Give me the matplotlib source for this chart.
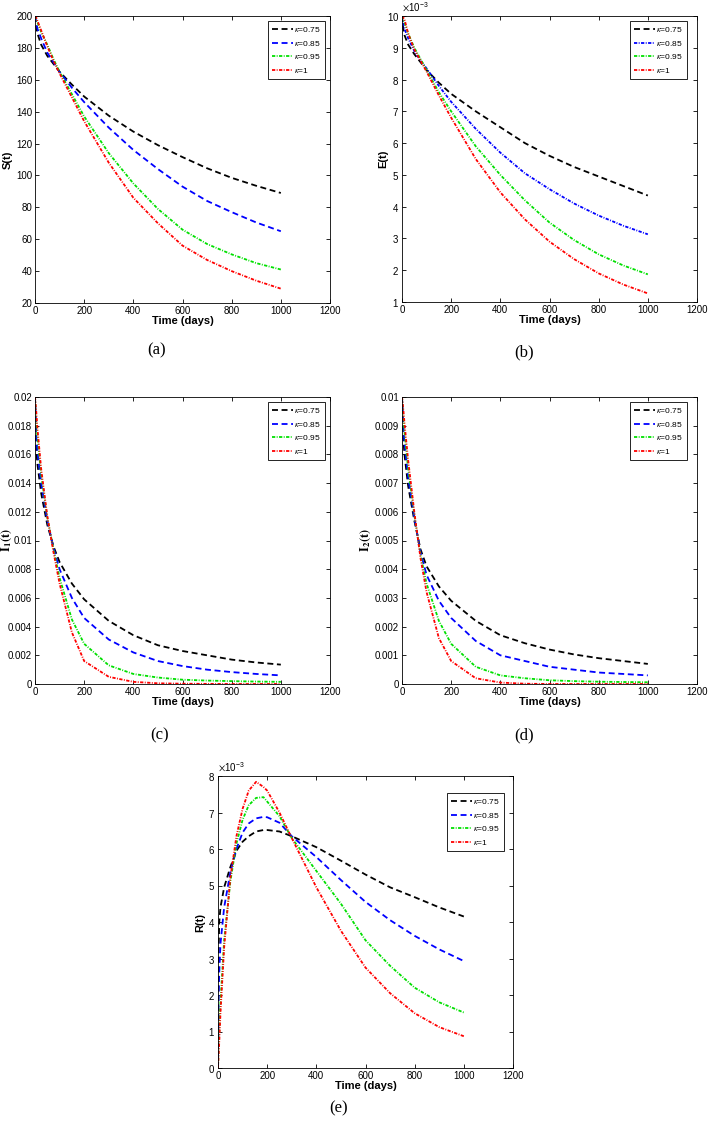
import numpy as np
import matplotlib
matplotlib.use("Agg")
import matplotlib.pyplot as plt
from matplotlib.ticker import FuncFormatter, ScalarFormatter

plt.rcParams['font.family'] = ['Liberation Sans', 'DejaVu Sans']
plt.rcParams['mathtext.fontset'] = 'stix'

t = [0, 5, 10, 25, 50, 75, 100, 150, 200, 300, 400, 500, 600, 700, 800, 900, 1000]
kappas = ['0.75', '0.85', '0.95', '1']

# (a) S(t)
S_075 = [200, 193, 189, 182, 175, 170, 165, 157, 149.5, 137.5, 127.5, 119, 111.5, 104.5, 98.5, 93.5, 89]
S_085 = [200, 196, 192, 186, 177, 171, 165, 155, 146, 130, 116, 104, 93, 84, 77, 70.5, 65]
S_095 = [200, 198, 196, 190, 182, 173, 165, 151, 137, 114, 95, 79, 66, 57, 50.5, 45, 41]
S_1 = [200, 199, 197, 191, 181, 172, 164, 149, 134, 108, 86, 70, 56, 47, 40, 34, 29]

# (b) E(t)
E_075 = [0.0100, 0.0096, 0.0094, 0.0091, 0.0088, 0.00855, 0.0083, 0.0079, 0.00755, 0.0070, 0.0065, 0.0060, 0.0056, 0.00525, 0.00495, 0.00465, 0.00435]
E_085 = [0.0100, 0.00975, 0.0096, 0.0093, 0.0089, 0.0086, 0.00835, 0.0078, 0.0073, 0.00645, 0.0057, 0.00505, 0.00455, 0.0041, 0.00372, 0.0034, 0.00313]
E_095 = [0.0100, 0.0099, 0.0098, 0.00945, 0.0090, 0.00865, 0.0083, 0.0076, 0.0070, 0.0059, 0.0050, 0.0042, 0.0035, 0.00295, 0.0025, 0.00215, 0.00187]
E_1 = [0.0100, 0.00995, 0.0099, 0.00945, 0.00895, 0.0086, 0.00825, 0.0075, 0.0068, 0.0055, 0.00445, 0.0036, 0.0029, 0.00235, 0.0019, 0.00155, 0.00127]

# (c) I1(t)
I1_075 = [0.0200, 0.0163, 0.0153, 0.0133, 0.0111, 0.0096, 0.0085, 0.0070, 0.0059, 0.0044, 0.0034, 0.0027, 0.0023, 0.0020, 0.0017, 0.0015, 0.00135]
I1_085 = [0.0200, 0.0172, 0.0162, 0.0140, 0.0114, 0.0095, 0.0080, 0.0060, 0.0046, 0.0031, 0.0022, 0.0016, 0.00125, 0.0010, 0.00083, 0.0007, 0.0006]
I1_095 = [0.0200, 0.0183, 0.0172, 0.0146, 0.0116, 0.0094, 0.0074, 0.0045, 0.0028, 0.0013, 0.0007, 0.00045, 0.0003, 0.00024, 0.0002, 0.00017, 0.00015]
I1_1 = [0.0200, 0.0190, 0.0178, 0.0150, 0.0117, 0.0092, 0.0070, 0.0036, 0.0016, 0.0005, 0.00015, 0.00005, 0.00002, 0.00001, 0.0, 0.0, 0.0]

# (d) I2(t)
I2_075 = [0.0100, 0.0086, 0.0080, 0.0069, 0.0057, 0.0047, 0.0041, 0.0034, 0.0029, 0.0022, 0.0017, 0.00142, 0.0012, 0.00103, 0.0009, 0.0008, 0.0007]
I2_085 = [0.0100, 0.0090, 0.0084, 0.0072, 0.0058, 0.0046, 0.0038, 0.0029, 0.0023, 0.0015, 0.0010, 0.0008, 0.0006, 0.0005, 0.0004, 0.00035, 0.0003]
I2_095 = [0.0100, 0.0094, 0.0088, 0.0075, 0.0059, 0.0045, 0.0035, 0.0022, 0.0014, 0.0006, 0.0003, 0.0002, 0.00013, 0.0001, 0.00008, 0.00007, 0.00006]
I2_1 = [0.0100, 0.0096, 0.0091, 0.0078, 0.0060, 0.0044, 0.0032, 0.0016, 0.0008, 0.0002, 0.00005, 0.00001, 0.0, 0.0, 0.0, 0.0, 0.0]

# (e) R(t), own time grid (steep start)
tR = [0, 2, 5, 10, 25, 50, 75, 100, 125, 155, 185, 200, 250, 300, 400, 500, 600, 700, 800, 900, 1000]
R_075 = [0, 0.0030, 0.0040, 0.0044, 0.00495, 0.0055, 0.00595, 0.0062, 0.00635, 0.00648, 0.00652, 0.00652, 0.00648, 0.00635, 0.00605, 0.00568, 0.0053, 0.00495, 0.00468, 0.0044, 0.00415]
R_085 = [0, 0.0018, 0.0026, 0.0034, 0.0044, 0.00535, 0.0060, 0.00645, 0.0067, 0.00684, 0.00688, 0.00687, 0.00672, 0.00635, 0.00578, 0.00515, 0.00455, 0.00405, 0.00362, 0.00325, 0.00293]
R_095 = [0, 0.0005, 0.0010, 0.0018, 0.0035, 0.0051, 0.00615, 0.0068, 0.0072, 0.0074, 0.00742, 0.0073, 0.0069, 0.0063, 0.0054, 0.0045, 0.0035, 0.0028, 0.0022, 0.0018, 0.00152]
R_1 = [0, 0.0003, 0.0007, 0.0015, 0.0033, 0.0052, 0.00635, 0.0071, 0.0076, 0.00784, 0.0077, 0.0076, 0.0070, 0.0063, 0.00495, 0.00376, 0.00275, 0.00205, 0.0015, 0.00112, 0.00087]

colors = ['k', 'b', '#00e000', 'r']
dash = (3.3, 2.0)
dashdot = (1.8, 0.8, 0.5, 0.8)

W, H = 708, 1125
fig = plt.figure(figsize=(W / 100, H / 100), dpi=100)


def px_rect(x0, y0, x1, y1):
    return [x0 / W, 1 - y1 / H, (x1 - x0) / W, (y1 - y0) / H]


def panel(rect, tt, series, ylab, ylim, yticks, styles, tag, tagpos, labx,
          sci=False, legpad=(5, 5), labsize=8):
    ax = fig.add_axes(px_rect(*rect))
    for k, (s, c, st) in enumerate(zip(series, colors, styles)):
        ax.plot(tt, s, color=c, lw=1.3, dashes=st, label=r'$\kappa$=' + kappas[k])
    ax.set_xlim(0, 1200)
    ax.set_xticks(range(0, 1201, 200))
    ax.set_ylim(ylim)
    ax.set_yticks(yticks)
    if sci:
        fmt = ScalarFormatter(useMathText=True)
        fmt.set_powerlimits((-3, -3))
        ax.yaxis.set_major_formatter(fmt)
        ax.yaxis.get_offset_text().set_fontsize(7)
    else:
        ax.yaxis.set_major_formatter(FuncFormatter(lambda v, p: '%g' % v))
    ax.tick_params(direction='in', top=True, right=True, labelsize=7, length=3, width=0.6, pad=2)
    for sp in ax.spines.values():
        sp.set_linewidth(0.6)
    ax.set_xlabel('Time (days)', fontsize=8, fontweight='bold', labelpad=0)
    ax.set_ylabel(ylab, fontsize=labsize, fontweight='bold')
    ax.yaxis.set_label_coords(labx, 0.5)
    axw = rect[2] - rect[0]
    axh = rect[3] - rect[1]
    leg = ax.legend(loc='upper right', bbox_to_anchor=(1 - legpad[0] / axw, 1 - legpad[1] / axh),
                    borderaxespad=0, fontsize=6, handlelength=2.6, handletextpad=0.1,
                    labelspacing=0.55, borderpad=0.5, fancybox=False, framealpha=1)
    leg.get_frame().set_edgecolor('k')
    leg.get_frame().set_linewidth(0.6)
    fig.text(tagpos[0] / W, 1 - tagpos[1] / H, tag, ha='center', va='center',
             fontsize=12, family='Liberation Serif')
    return ax


std = [dash, dash, dashdot, dashdot]
panel((35, 16, 330, 303), t, [S_075, S_085, S_095, S_1], 'S(t)', (20, 200),
      range(20, 201, 20), std, '(a)', (157, 350), -0.075)
panel((402, 16, 697, 302), t, [E_075, E_085, E_095, E_1], 'E(t)', (0.001, 0.010),
      np.arange(1, 11) * 1e-3, [dash, dashdot, dashdot, dashdot], '(b)', (524, 352), -0.047,
      sci=True, legpad=(10, 5))
panel((35, 397, 330, 684), t, [I1_075, I1_085, I1_095, I1_1], r'$\mathbf{I_1(t)}$', (0, 0.02),
      np.arange(0, 11) * 0.002, std, '(c)', (160, 735), -0.072, labsize=9)
panel((402, 397, 697, 684), t, [I2_075, I2_085, I2_095, I2_1], r'$\mathbf{I_2(t)}$', (0, 0.01),
      np.arange(0, 11) * 0.001, std, '(d)', (524, 735), -0.1, legpad=(10, 5), labsize=9)
panel((218, 776, 513, 1068), tR, [R_075, R_085, R_095, R_1], 'R(t)', (0, 0.008),
      np.arange(0, 9) * 1e-3, std, '(e)', (339, 1108), -0.044, sci=True, legpad=(9, 17))

fig.savefig('out.png', dpi=100)
